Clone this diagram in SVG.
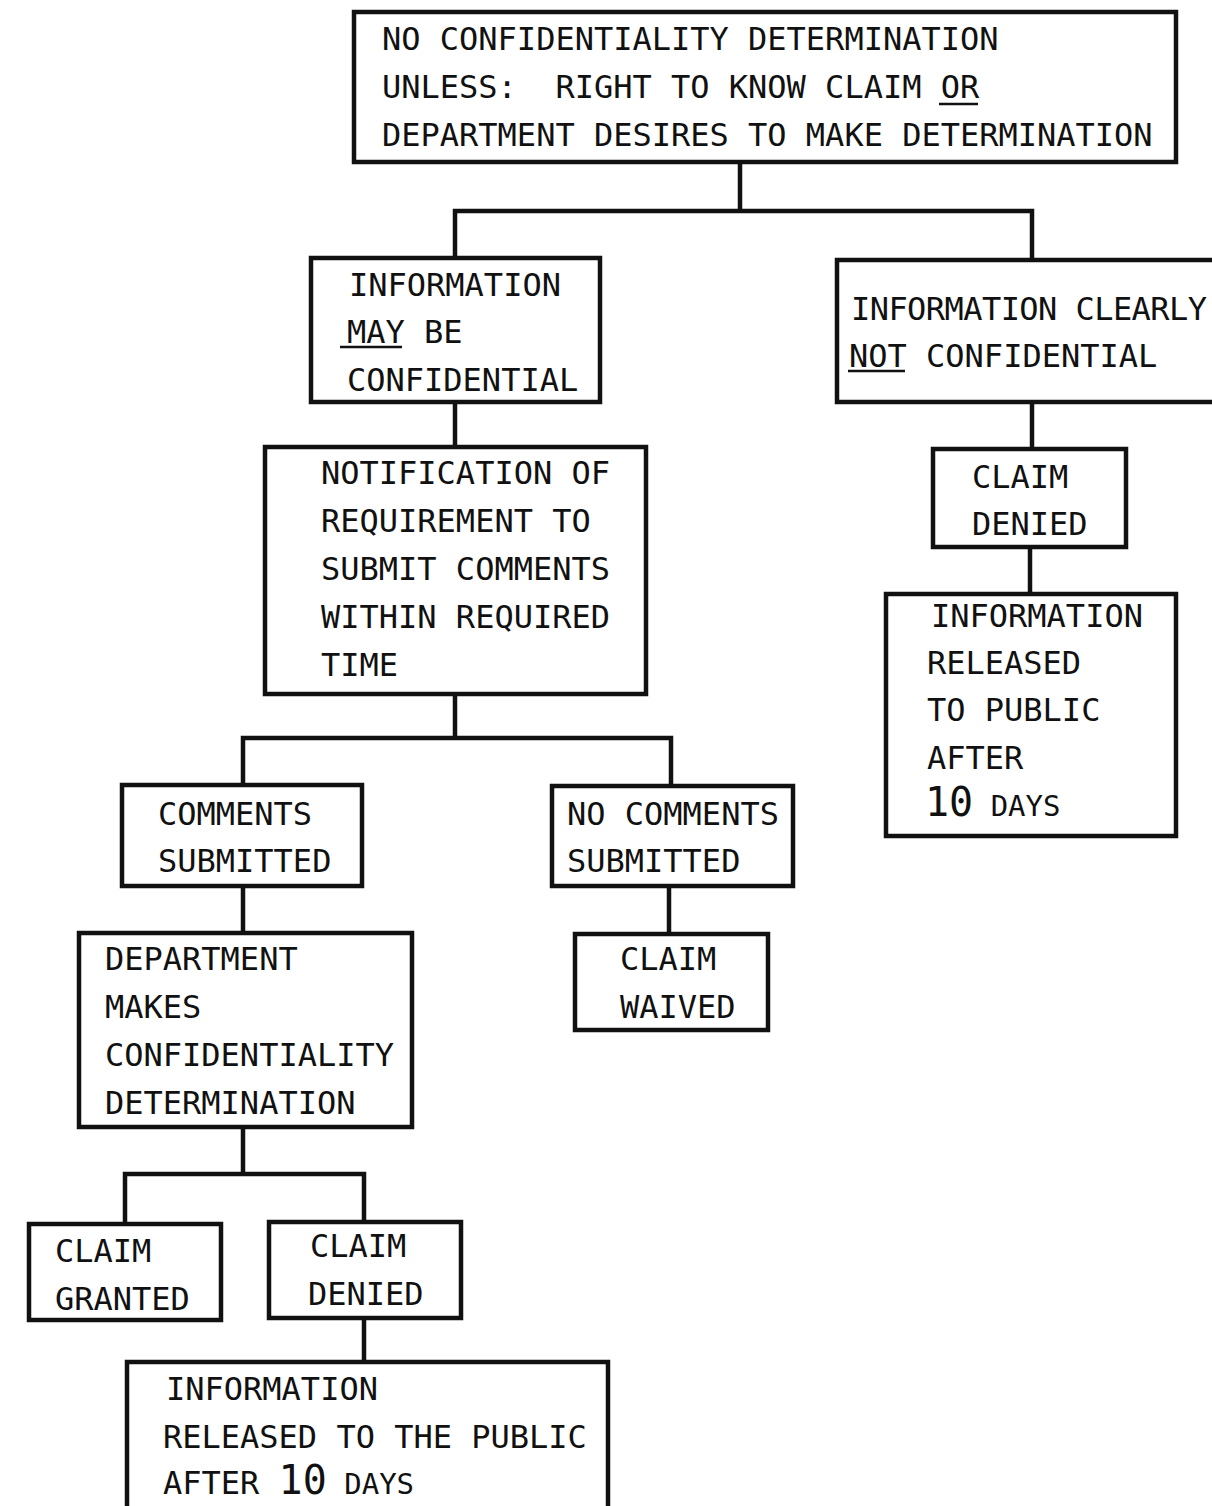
<svg xmlns="http://www.w3.org/2000/svg" width="1212" height="1506" viewBox="0 0 1212 1506">
<style>
.box{fill:#fff;stroke:#111;stroke-width:4.5}
.c{fill:none;stroke:#111;stroke-width:4.5}
text{font-family:"DejaVu Sans Mono","Liberation Mono",monospace;font-size:32px;fill:#111;white-space:pre}
.u{stroke:#111;stroke-width:2.5}
.big{font-size:40px}
.sm{font-size:29px}
</style>
<rect width="1212" height="1506" fill="#fff"/>
<g id="connectors">
<path class="c" d="M740 162V211M455 258V211H1032V260"/>
<path class="c" d="M455 402V447"/>
<path class="c" d="M1032 402V449"/>
<path class="c" d="M1030 547V594"/>
<path class="c" d="M455 694V738M243 785V738H671V786"/>
<path class="c" d="M243 886V933"/>
<path class="c" d="M669 886V934"/>
<path class="c" d="M243 1127V1174M125 1224V1174H364V1222"/>
<path class="c" d="M364 1318V1362"/>
</g>
<g id="n_top">
<rect class="box" x="354" y="12" width="822" height="150"/>
<text x="382" y="50">NO CONFIDENTIALITY DETERMINATION</text>
<text x="382" y="98" xml:space="preserve">UNLESS:  RIGHT TO KNOW CLAIM OR</text>
<text x="382" y="146">DEPARTMENT DESIRES TO MAKE DETERMINATION</text>
<line class="u" x1="939" y1="104" x2="978" y2="104"/>
</g>
<g id="n_may">
<rect class="box" x="311" y="258" width="289" height="144"/>
<text x="349" y="296">INFORMATION</text>
<text x="347" y="343">MAY BE</text>
<text x="347" y="391">CONFIDENTIAL</text>
<line class="u" x1="340" y1="347" x2="402" y2="347"/>
</g>
<g id="n_not">
<rect class="box" x="837" y="260" width="400" height="142"/>
<text x="851" y="320" textLength="356" lengthAdjust="spacing">INFORMATION CLEARLY</text>
<text x="849" y="367">NOT CONFIDENTIAL</text>
<line class="u" x1="848" y1="371" x2="905" y2="371"/>
</g>
<g id="n_notify">
<rect class="box" x="265" y="447" width="381" height="247"/>
<text x="321" y="484">NOTIFICATION OF</text>
<text x="321" y="532">REQUIREMENT TO</text>
<text x="321" y="580">SUBMIT COMMENTS</text>
<text x="321" y="628">WITHIN REQUIRED</text>
<text x="321" y="676">TIME</text>
</g>
<g id="n_denied_r">
<rect class="box" x="933" y="449" width="193" height="98"/>
<text x="972" y="488">CLAIM</text>
<text x="972" y="535">DENIED</text>
</g>
<g id="n_released_r">
<rect class="box" x="886" y="594" width="290" height="242"/>
<text x="931" y="627">INFORMATION</text>
<text x="927" y="674">RELEASED</text>
<text x="927" y="721">TO PUBLIC</text>
<text x="927" y="769">AFTER</text>
<text x="925" y="816"><tspan class="big">10</tspan><tspan class="sm"> DAYS</tspan></text>
</g>
<g id="n_comments">
<rect class="box" x="122" y="785" width="240" height="101"/>
<text x="158" y="825">COMMENTS</text>
<text x="158" y="872">SUBMITTED</text>
</g>
<g id="n_nocomments">
<rect class="box" x="552" y="786" width="241" height="100"/>
<text x="567" y="825">NO COMMENTS</text>
<text x="567" y="872">SUBMITTED</text>
</g>
<g id="n_dept">
<rect class="box" x="79" y="933" width="333" height="194"/>
<text x="105" y="970">DEPARTMENT</text>
<text x="105" y="1018">MAKES</text>
<text x="105" y="1066">CONFIDENTIALITY</text>
<text x="105" y="1114">DETERMINATION</text>
</g>
<g id="n_waived">
<rect class="box" x="575" y="934" width="193" height="96"/>
<text x="620" y="970">CLAIM</text>
<text x="620" y="1018">WAIVED</text>
</g>
<g id="n_granted">
<rect class="box" x="29" y="1224" width="192" height="96"/>
<text x="55" y="1262">CLAIM</text>
<text x="55" y="1310">GRANTED</text>
</g>
<g id="n_denied_l">
<rect class="box" x="269" y="1222" width="192" height="96"/>
<text x="310" y="1257">CLAIM</text>
<text x="308" y="1305">DENIED</text>
</g>
<g id="n_released_l">
<rect class="box" x="127" y="1362" width="481" height="150"/>
<text x="166" y="1400">INFORMATION</text>
<text x="163" y="1448">RELEASED TO THE PUBLIC</text>
<text x="163" y="1494">AFTER <tspan class="big">10</tspan><tspan class="sm"> DAYS</tspan></text>
</g>
</svg>
